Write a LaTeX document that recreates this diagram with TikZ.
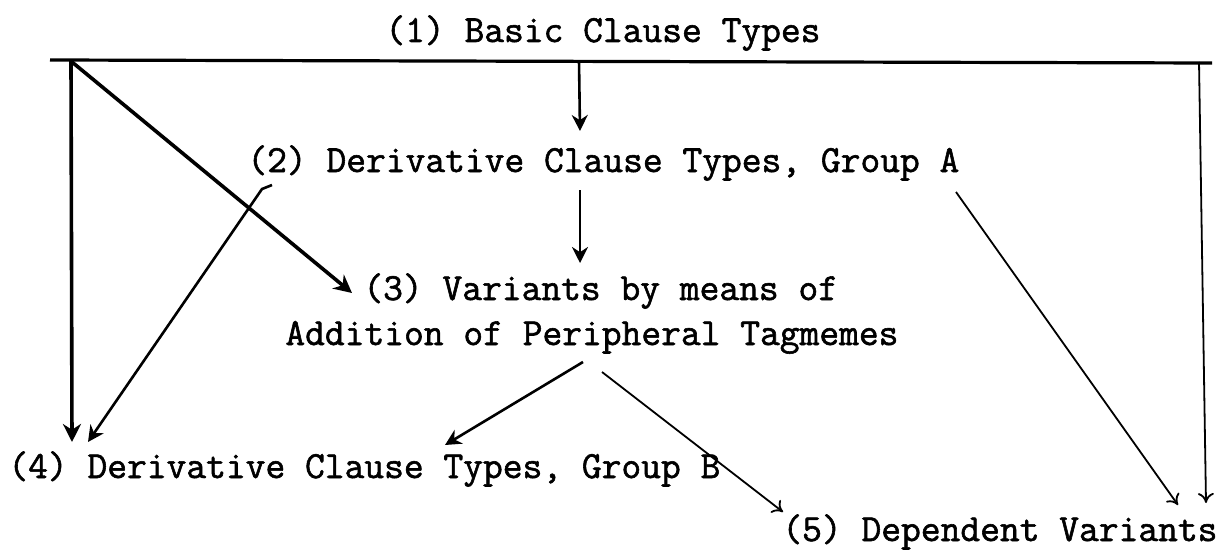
\documentclass[tikz,border=0pt]{standalone}
\usepackage{fontspec}
\newfontfamily\typewriter{Latin Modern Mono}[FakeBold=1.5]
\usetikzlibrary{arrows.meta,calc}

\tikzset{
  typed/.style={font=\typewriter\fontsize{19.2}{22}\selectfont, inner sep=0pt, anchor=base west},
  heavy/.style={line width=1.8pt, -{Stealth[length=9pt,width=9pt]}},
  medium/.style={line width=1.3pt, -{Stealth[length=8pt,width=8pt]}},
  thin/.style={line width=0.9pt, -{To[length=5pt,width=8pt]}}
}

\begin{document}
\begin{tikzpicture}[x=0.5pt,y=-0.5pt]
  \useasboundingbox (0,0) rectangle (1230,551);
  \node[typed] (n1) at (385,42) {(1) Basic Clause Types};
  \node[typed] (n2) at (247,172) {(2) Derivative Clause Types, Group A};
  \node[typed] (n3a) at (363,300) {(3) Variants by means of};
  \node[typed] (n3b) at (285,345) {Addition of Peripheral Tagmemes};
  \node[typed] (n4) at (8,478) {(4) Derivative Clause Types, Group B};
  \node[typed] (n5) at (782,541) {(5) Dependent Variants};

  \coordinate (barL) at ($(n1.base west)+(-335,18)$);
  \coordinate (barR) at ($(n1.base west)+(827,21)$);
  \draw[line width=1.6pt] (barL) -- (barR);

  \draw[heavy] ($(barL)+(21,1)$) -- ($(n4.base west)+(64,-36)$);
  \draw[heavy] ($(barL)+(22,2)$) -- ($(n3a.base west)+(-11,-7)$);
  \draw[medium] ($(barL)+(529,1)$) -- ($(n2.base west)+(333,-41)$);
  \draw[thin] ($(barR)+(-13,-1)$) -- ($(n5.base west)+(424,-38)$);

  \draw[medium] ($(n2.base west)+(333,18)$) -- ($(n3a.base west)+(217,-37)$);
  \draw[medium] ($(n2.base west)+(25,13)$) -- ($(n2.base west)+(15,17)$) -- ($(n4.base west)+(80,-36)$);
  \draw[thin] ($(n2.base west)+(709,20)$) -- ($(n5.base west)+(396,-36)$);

  \draw[medium] ($(n3b.base west)+(298,17)$) -- ($(n4.base west)+(437,-33)$);
  \draw[thin] ($(n3b.base west)+(317,27)$) -- ($(n5.base west)+(1,-29)$);
\end{tikzpicture}
\end{document}
